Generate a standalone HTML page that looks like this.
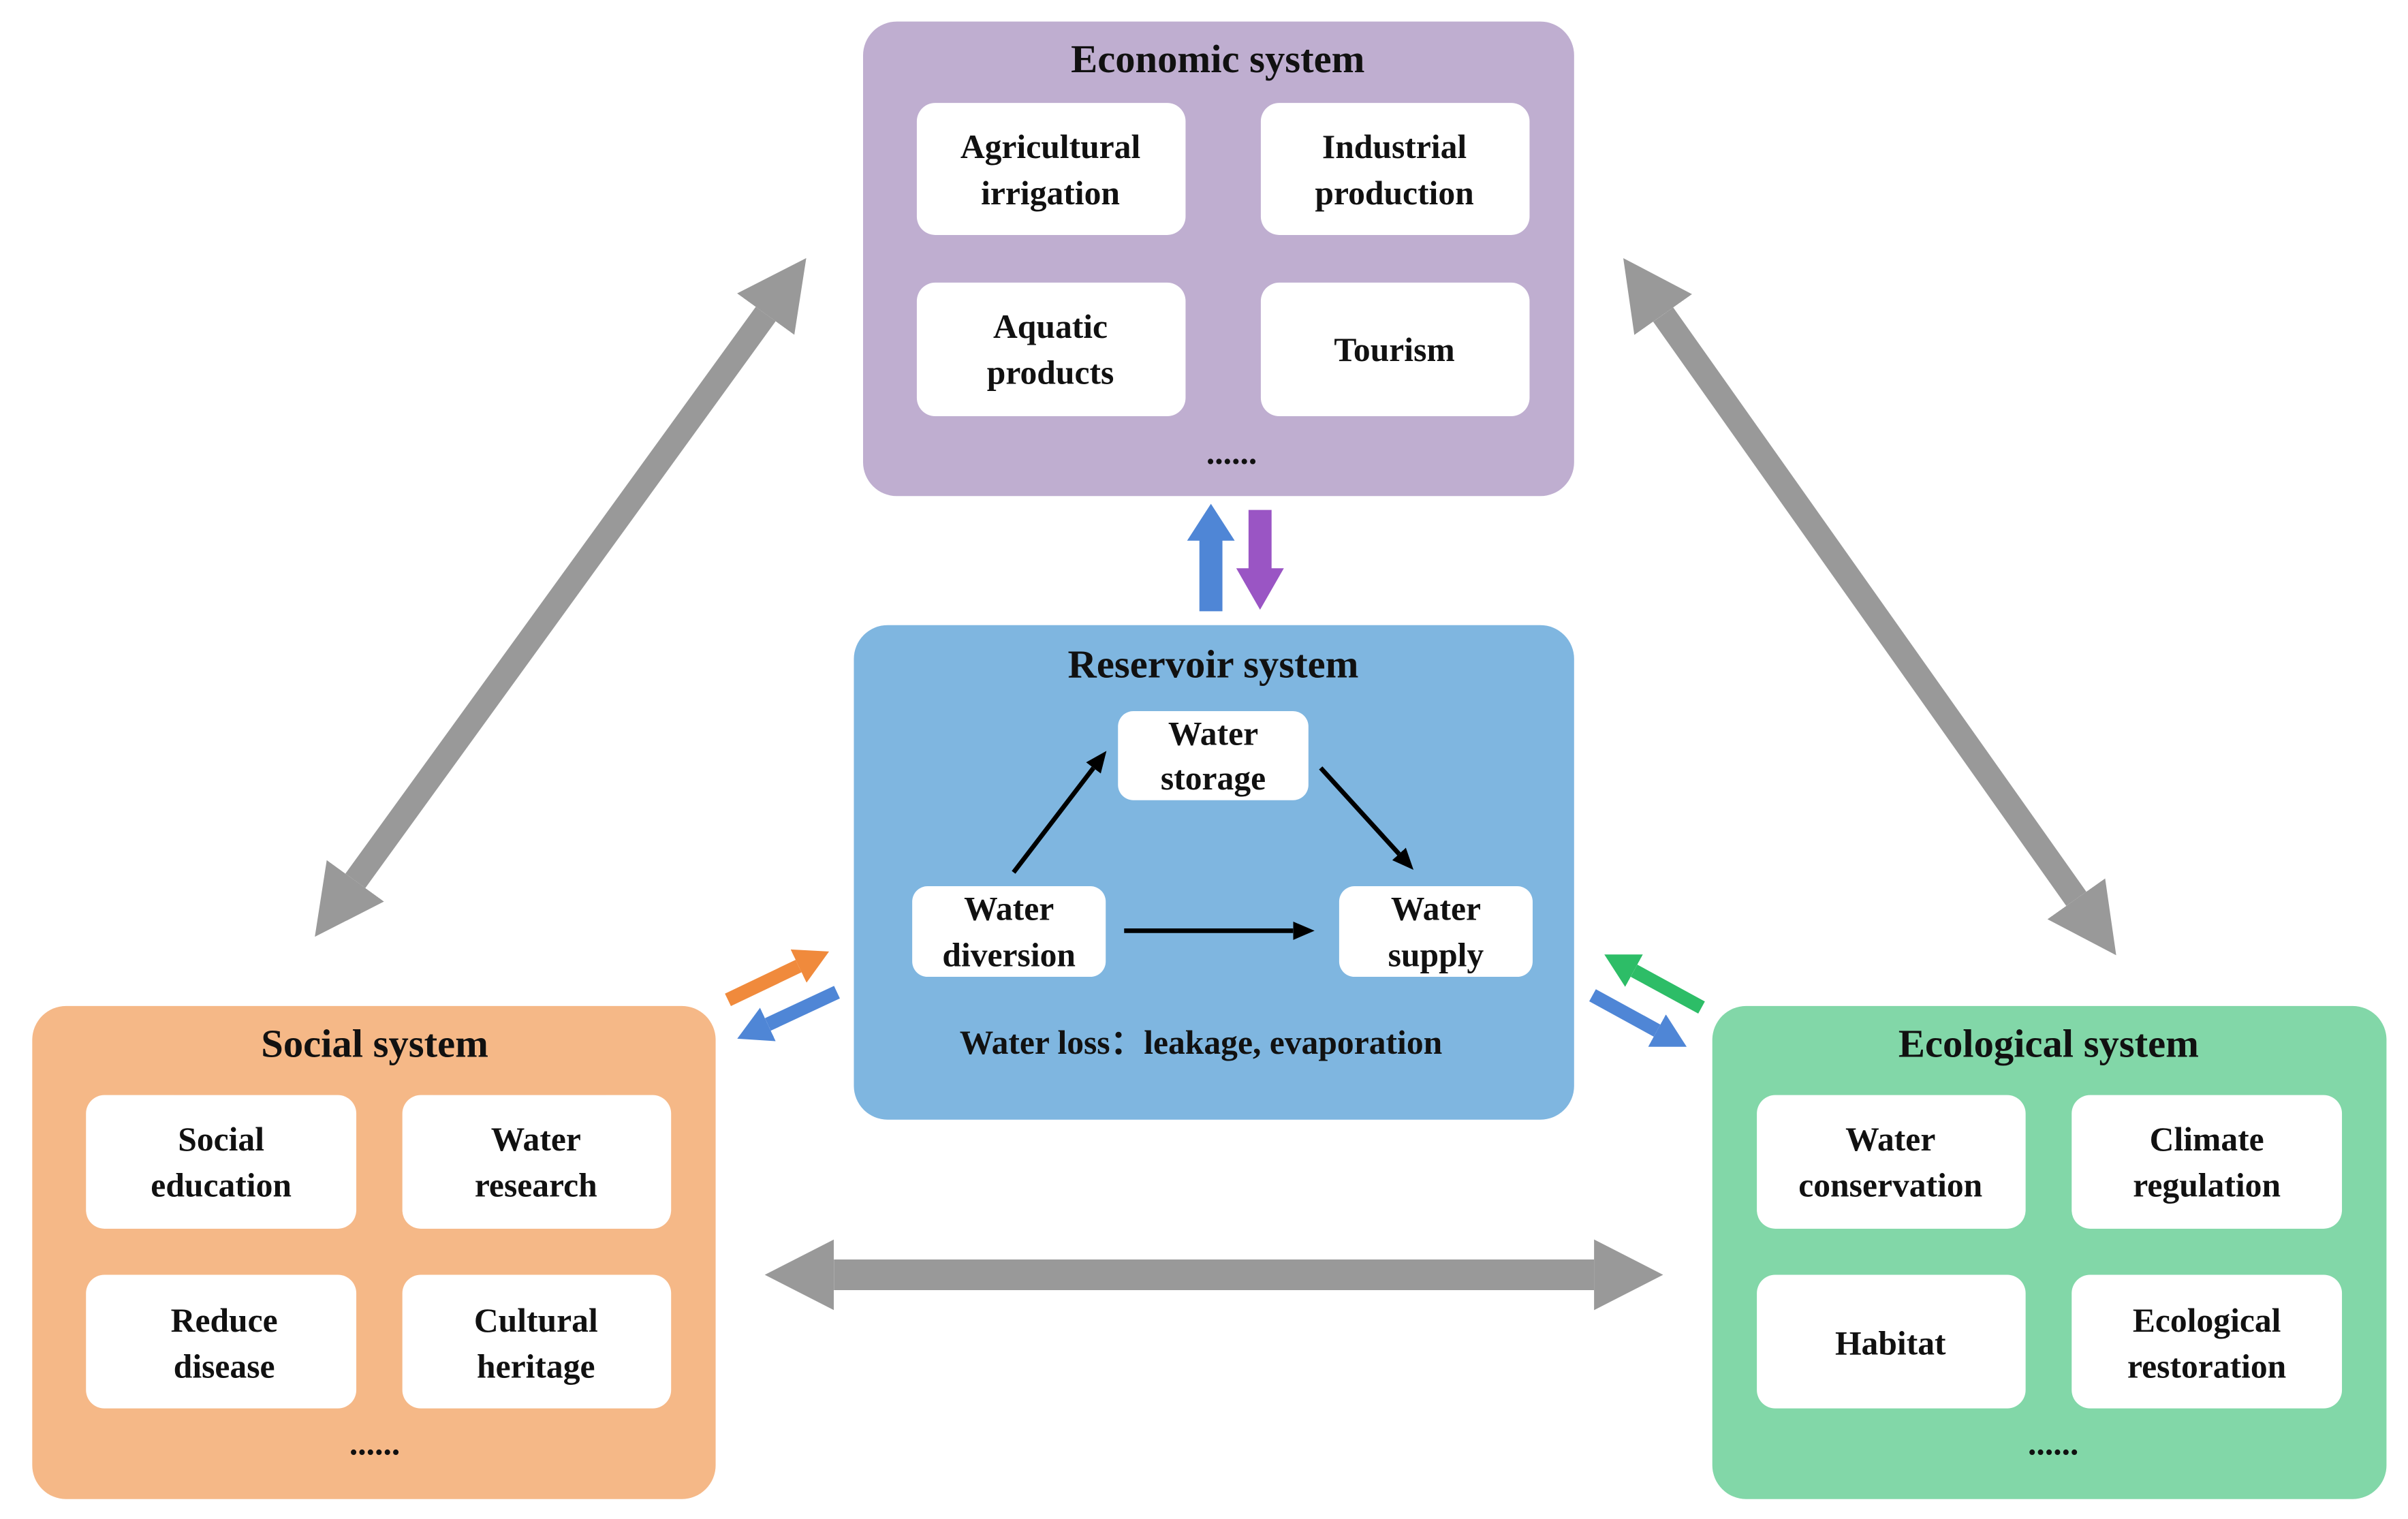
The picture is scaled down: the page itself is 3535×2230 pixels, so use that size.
<!DOCTYPE html>
<html><head><meta charset="utf-8"><style>html,body{margin:0;padding:0;background:#fff}svg{display:block}text{font-family:"Liberation Serif","Times New Roman","DejaVu Serif",serif;font-weight:bold;fill:#111;text-anchor:middle}</style></head>
<body>
<svg width="3535" height="2230" viewBox="0 0 1568 989" preserveAspectRatio="none" xmlns="http://www.w3.org/2000/svg">
<defs>
<marker id="g" markerUnits="userSpaceOnUse" viewBox="0 0 45 46" markerWidth="45" markerHeight="46" refX="0" refY="23" orient="auto-start-reverse"><path d="M0,0L45,23L0,46z" fill="#999"/></marker>
<marker id="k" markerUnits="userSpaceOnUse" viewBox="0 0 14 12" markerWidth="14" markerHeight="12" refX="0" refY="6" orient="auto"><path d="M0,0L14,6L0,12z" fill="#000"/></marker>
<marker id="mo" markerUnits="userSpaceOnUse" viewBox="0 0 22 24" markerWidth="22" markerHeight="24" refX="0" refY="12" orient="auto"><path d="M0,0L22,12L0,24z" fill="#f08a3c"/></marker>
<marker id="mb" markerUnits="userSpaceOnUse" viewBox="0 0 22 24" markerWidth="22" markerHeight="24" refX="0" refY="12" orient="auto"><path d="M0,0L22,12L0,24z" fill="#4f86d6"/></marker>
<marker id="mg" markerUnits="userSpaceOnUse" viewBox="0 0 22 24" markerWidth="22" markerHeight="24" refX="0" refY="12" orient="auto"><path d="M0,0L22,12L0,24z" fill="#2dbd67"/></marker>
</defs>

<line x1="231.4" y1="573.5" x2="498.6" y2="204.5" stroke="#999" stroke-width="16" marker-start="url(#g)" marker-end="url(#g)"/>
<line x1="1083" y1="204.8" x2="1352" y2="585.2" stroke="#999" stroke-width="16" marker-start="url(#g)" marker-end="url(#g)"/>
<line x1="543" y1="830" x2="1038" y2="830" stroke="#999" stroke-width="20" marker-start="url(#g)" marker-end="url(#g)"/>

<g font-family="Liberation Serif, Times New Roman, DejaVu Serif, serif">
<rect x="562" y="14" width="463" height="309" rx="22" fill="#bfaed0"/>
<text x="793" y="47" font-size="26">Economic system</text>
<rect x="597" y="67" width="175" height="86" rx="12" fill="#fff"/>
<rect x="821" y="67" width="175" height="86" rx="12" fill="#fff"/>
<rect x="597" y="184" width="175" height="87" rx="12" fill="#fff"/>
<rect x="821" y="184" width="175" height="87" rx="12" fill="#fff"/>
<text x="684" y="103" font-size="22">Agricultural</text><text x="684" y="133" font-size="22">irrigation</text>
<text x="908" y="103" font-size="22">Industrial</text><text x="908" y="133" font-size="22">production</text>
<text x="684" y="220" font-size="22">Aquatic</text><text x="684" y="250" font-size="22">products</text>
<text x="908" y="235" font-size="22">Tourism</text>
<text x="802" y="302" font-size="22">......</text>

<path d="M781,398V352H773L788.5,328L804,352H796V398z" fill="#4f86d6"/>
<path d="M813,332H828V370H836L820.5,397L805,370H813z" fill="#9a55c4"/>

<rect x="556" y="407" width="469" height="322" rx="22" fill="#7fb6e0"/>
<text x="790" y="441" font-size="26">Reservoir  system</text>
<rect x="728" y="463" width="124" height="58" rx="10" fill="#fff"/>
<rect x="594" y="577" width="126" height="59" rx="10" fill="#fff"/>
<rect x="872" y="577" width="126" height="59" rx="10" fill="#fff"/>
<text x="790" y="485" font-size="22">Water</text><text x="790" y="514" font-size="22">storage</text>
<text x="657" y="599" font-size="22">Water</text><text x="657" y="629" font-size="22">diversion</text>
<text x="935" y="599" font-size="22">Water</text><text x="935" y="629" font-size="22">supply</text>
<line x1="660" y1="568" x2="712" y2="500" stroke="#000" stroke-width="3" marker-end="url(#k)"/>
<line x1="860" y1="500" x2="911" y2="556" stroke="#000" stroke-width="3" marker-end="url(#k)"/>
<line x1="732" y1="606" x2="842" y2="606" stroke="#000" stroke-width="3" marker-end="url(#k)"/>
<text x="782" y="686" font-size="22">Water loss：leakage, evaporation</text>

<line x1="474" y1="651" x2="520" y2="629" stroke="#f08a3c" stroke-width="9" marker-end="url(#mo)"/>
<line x1="545" y1="646" x2="500" y2="667" stroke="#4f86d6" stroke-width="9" marker-end="url(#mb)"/>
<line x1="1108" y1="656" x2="1064" y2="632" stroke="#2dbd67" stroke-width="9" marker-end="url(#mg)"/>
<line x1="1037" y1="648" x2="1079" y2="671" stroke="#4f86d6" stroke-width="9" marker-end="url(#mb)"/>

<rect x="21" y="655" width="445" height="321" rx="22" fill="#f5b887"/>
<text x="244" y="688" font-size="26">Social system</text>
<rect x="56" y="713" width="176" height="87" rx="12" fill="#fff"/>
<rect x="262" y="713" width="175" height="87" rx="12" fill="#fff"/>
<rect x="56" y="830" width="176" height="87" rx="12" fill="#fff"/>
<rect x="262" y="830" width="175" height="87" rx="12" fill="#fff"/>
<text x="144" y="749" font-size="22">Social</text><text x="144" y="779" font-size="22">education</text>
<text x="349" y="749" font-size="22">Water</text><text x="349" y="779" font-size="22">research</text>
<text x="146" y="867" font-size="22">Reduce</text><text x="146" y="897" font-size="22">disease</text>
<text x="349" y="867" font-size="22">Cultural</text><text x="349" y="897" font-size="22">heritage</text>
<text x="244" y="947" font-size="22">......</text>

<rect x="1115" y="655" width="439" height="321" rx="22" fill="#82d7a8"/>
<text x="1334" y="688" font-size="26">Ecological system</text>
<rect x="1144" y="713" width="175" height="87" rx="12" fill="#fff"/>
<rect x="1349" y="713" width="176" height="87" rx="12" fill="#fff"/>
<rect x="1144" y="830" width="175" height="87" rx="12" fill="#fff"/>
<rect x="1349" y="830" width="176" height="87" rx="12" fill="#fff"/>
<text x="1231" y="749" font-size="22">Water</text><text x="1231" y="779" font-size="22">conservation</text>
<text x="1437" y="749" font-size="22">Climate</text><text x="1437" y="779" font-size="22">regulation</text>
<text x="1231" y="882" font-size="22">Habitat</text>
<text x="1437" y="867" font-size="22">Ecological</text><text x="1437" y="897" font-size="22">restoration</text>
<text x="1337" y="947" font-size="22">......</text>
</g>
</svg>
</body></html>
